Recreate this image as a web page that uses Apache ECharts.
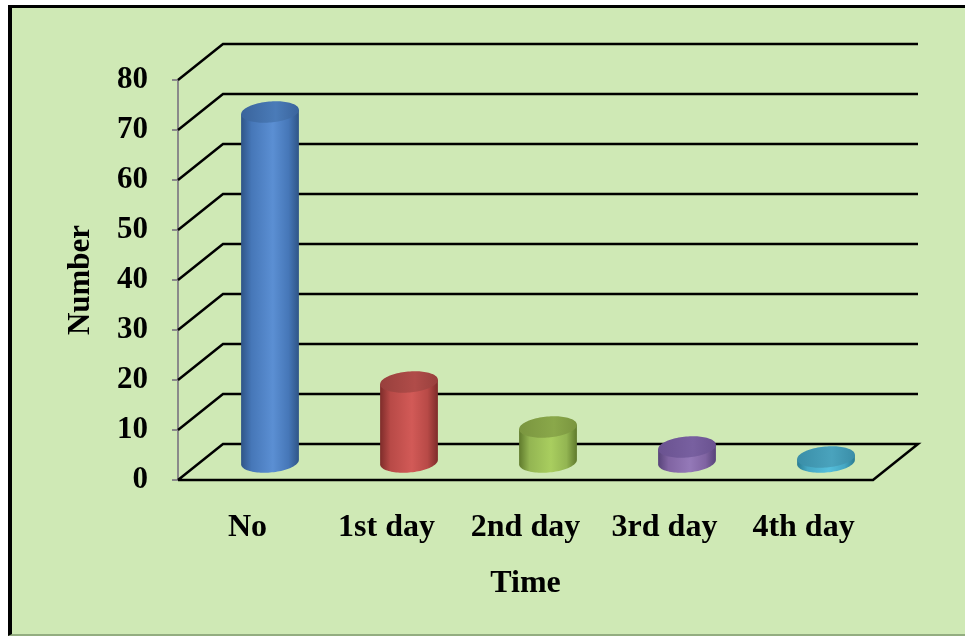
<!DOCTYPE html>
<html><head><meta charset="utf-8">
<script src="https://cdn.jsdelivr.net/npm/echarts/dist/echarts.min.js"></script>
<style>
html,body{margin:0;padding:0;background:#fff;width:965px;height:637px;overflow:hidden;}
#frame{position:absolute;left:8px;top:5px;width:957px;height:631px;box-sizing:border-box;border-left:4px solid #000;border-top:3px solid #000;border-bottom:2px solid #93ad80;background:#cfe9b5;}
#chart{position:absolute;left:0;top:0;width:965px;height:637px;}
</style></head><body>
<div id="frame"></div><div id="chart"></div>
<script>
// ---- data ----
const categories = ['No', '1st day', '2nd day', '3rd day', '4th day'];
const values = [70, 16, 7, 3, 1];
const yTicks = [0, 10, 20, 30, 40, 50, 60, 70, 80];
const xAxisTitle = 'Time';
const yAxisTitle = 'Number';

// ---- style ----
const palette = [
  {edge:'#2f5587', mid:'#4677b8', light:'#5b8fd3', top:['#3a649c','#4a7bb8']},
  {edge:'#7e2c2a', mid:'#b84a47', light:'#d25a57', top:['#98403d','#b04c49']},
  {edge:'#5f7a2c', mid:'#93b552', light:'#a9ce5f', top:['#7a953f','#8aa84a']},
  {edge:'#574379', mid:'#8064a2', light:'#9479b8', top:['#6a5290','#7860a0']},
  {edge:'#2a7b92', mid:'#45a7c3', light:'#55bfdc', top:['#3a8ea8','#4aa3bd']}
];
const DX = 45, DY = 36;           // depth offset of back wall
const RX = 29, RY = 10.5;         // cylinder radii
const PHI = -5 * Math.PI / 180;   // ellipse tilt
const FONT = 'Liberation Serif';

function ePt(cx, cy, t) {
  return [cx + RX * Math.cos(t) * Math.cos(PHI) - RY * Math.sin(t) * Math.sin(PHI),
          cy + RX * Math.cos(t) * Math.sin(PHI) + RY * Math.sin(t) * Math.cos(PHI)];
}
const T0 = Math.atan2(-RY * Math.sin(PHI), RX * Math.cos(PHI));

function renderGrid(params, api) {
  const cs = params.coordSys;
  const v = api.value(1);
  const y = api.coord([0, v])[1];
  const x0 = cs.x, x1 = cs.x + cs.width;
  const pts = [[x0, y], [x0 + DX, y - DY], [x1 + DX, y - DY]];
  if (v === 0) { pts.push([x1, y]); pts.push([x0, y]); }
  return {
    type: 'polyline',
    shape: { points: pts },
    style: { stroke: '#000', lineWidth: 2.5, fill: null, lineJoin: 'miter' },
    z2: 1
  };
}

function renderBar(params, api) {
  const i = api.value(0), v = api.value(1);
  const base = api.coord([i, 0]);
  const top = api.coord([i, v]);
  const cx = base[0] + DX / 2;
  const by = base[1] - DY / 2;
  const ty = top[1] - DY / 2;
  const c = palette[params.dataIndex % palette.length];
  const N = 48;
  const body = [];
  body.push(ePt(cx, ty, T0 + Math.PI));
  for (let k = 0; k <= N; k++) {
    const t = T0 + Math.PI - Math.PI * k / N;
    body.push(ePt(cx, by, t));
  }
  body.push(ePt(cx, ty, T0));
  const cap = [];
  for (let k = 0; k < N * 2; k++) cap.push(ePt(cx, ty, Math.PI * k / N));
  return {
    type: 'group',
    children: [
      { type: 'polygon', shape: { points: body },
        style: { fill: new echarts.graphic.LinearGradient(0, 0, 1, 0, [
          {offset: 0, color: c.edge}, {offset: 0.18, color: c.mid},
          {offset: 0.55, color: c.light}, {offset: 0.82, color: c.mid},
          {offset: 1, color: c.edge}]) } },
      { type: 'polygon', shape: { points: cap },
        style: { fill: new echarts.graphic.LinearGradient(0, 0, 1, 0, [
          {offset: 0, color: c.top[0]}, {offset: 0.6, color: c.top[1]},
          {offset: 1, color: c.top[0]}]) } }
    ]
  };
}

const chart = echarts.init(document.getElementById('chart'), null, {renderer: 'canvas'});
chart.setOption({
  backgroundColor: 'transparent',
  animation: false,
  grid: { left: 178, right: 92, top: 80, bottom: 157, containLabel: false, outerBoundsMode: 'none' },
  xAxis: {
    type: 'category', data: categories, boundaryGap: true,
    axisLine: { show: false }, axisTick: { show: false }, splitLine: { show: false },
    axisLabel: { margin: 32, color: '#000', fontFamily: FONT, fontWeight: 'bold', fontSize: 32, interval: 0 },
    name: xAxisTitle, nameLocation: 'middle', nameGap: 88,
    nameTextStyle: { color: '#000', fontFamily: FONT, fontWeight: 'bold', fontSize: 32 }
  },
  yAxis: {
    type: 'value', min: 0, max: 80, interval: 10,
    axisLine: { show: true, lineStyle: { color: '#8a8a8a', width: 2 } },
    axisTick: { show: true, length: 6, lineStyle: { color: '#8a8a8a', width: 2 } },
    splitLine: { show: false },
    axisLabel: { margin: 30, color: '#000', fontFamily: FONT, fontWeight: 'bold', fontSize: 31 },
    name: yAxisTitle, nameLocation: 'middle', nameGap: 82, nameRotate: 90,
    nameTextStyle: { color: '#000', fontFamily: FONT, fontWeight: 'bold', fontSize: 31 }
  },
  series: [
    { type: 'custom', renderItem: renderGrid, data: yTicks.map(t => [0, t]), z: 1, silent: true, clip: false },
    { type: 'custom', renderItem: renderBar, data: values.map((v, i) => [i, v]), z: 3, clip: false }
  ]
});
</script>
</body></html>
